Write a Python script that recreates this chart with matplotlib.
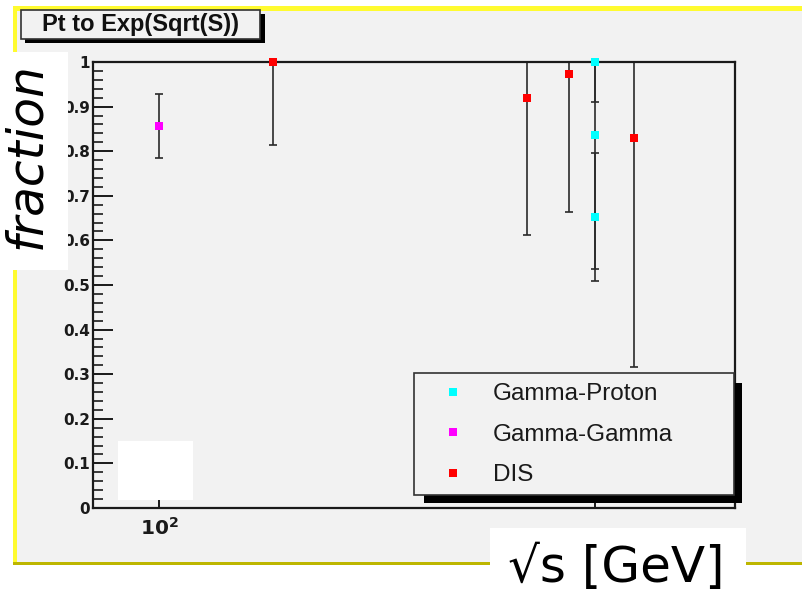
import matplotlib
matplotlib.use("Agg")
import matplotlib.pyplot as plt
from matplotlib.patches import Rectangle
from matplotlib.lines import Line2D
from matplotlib.ticker import FixedLocator, FixedFormatter, MultipleLocator, NullLocator

W, H = 803, 593

# --- values ---
gp_x = [1000, 1000, 1000]
gp_y = [1.0, 0.836, 0.652]
gp_err = [0.09, 0.30, 0.143]

gg_x = [100]
gg_y = [0.856]
gg_err = [0.072]

dis_x = [183, 700, 873, 1227]
dis_y = [0.999, 0.92, 0.973, 0.83]
dis_err = [0.185, 0.308, 0.309, 0.513]

labels = ["Gamma-Proton", "Gamma-Gamma", "DIS"]
colors = ["#00ffff", "#ff00ff", "#ff0000"]
y_ticks = [0, 0.1, 0.2, 0.3, 0.4, 0.5, 0.6, 0.7, 0.8, 0.9, 1]
y_ticklabels = ["0", "0.1", "0.2", "0.3", "0.4", "0.5", "0.6", "0.7", "0.8", "0.9", "1"]
x_ticks = [100, 1000]
x_ticklabels = [r"$\mathbf{10^{2}}$", ""]

BG = "#f2f2f2"
plt.rcParams["mathtext.fontset"] = "dejavusans"

fig = plt.figure(figsize=(W / 100, H / 100), dpi=100, facecolor="white")


def box(x0, y0, x1, y1, **kw):
    # pixel box, measured from the top-left corner
    r = Rectangle((x0 / W, 1 - y1 / H), (x1 - x0) / W, (y1 - y0) / H,
                  transform=fig.transFigure, **kw)
    fig.add_artist(r)
    return r


# --- canvas with the slide frame ---
box(17, 8, W + 5, 562, facecolor=BG, edgecolor="none", zorder=-3)
box(13, 6, W + 5, 11, facecolor="#fffb2f", edgecolor="none", zorder=-2)
box(13, 6, 17, 562, facecolor="#fffb2f", edgecolor="none", zorder=-2)
box(13, 562, W + 5, 565, facecolor="#bdb600", edgecolor="none", zorder=-2)

ax = fig.add_axes([93 / W, (H - 508) / H, 642 / W, 446 / H])
ax.set_facecolor(BG)
ax.set_xscale("log")
ax.set_xlim(70.6, 2095)
ax.set_ylim(0, 1)

for x, y, e, c in [(gp_x, gp_y, gp_err, colors[0]),
                   (gg_x, gg_y, gg_err, colors[1]),
                   (dis_x, dis_y, dis_err, colors[2])]:
    ax.errorbar(x, y, yerr=e, fmt="none", ecolor="#2a2a2a", elinewidth=1.2,
                capsize=3, capthick=1.2, zorder=2)
    ax.plot(x, y, ls="none", marker="s", ms=5.8, mew=0, color=c,
            clip_on=False, zorder=3)

for s in ax.spines.values():
    s.set_linewidth(1.6)
    s.set_color("#1a1a1a")

ax.yaxis.set_major_locator(FixedLocator(y_ticks))
ax.yaxis.set_major_formatter(FixedFormatter(y_ticklabels))
ax.yaxis.set_minor_locator(MultipleLocator(0.02))
ax.xaxis.set_major_locator(FixedLocator(x_ticks))
ax.xaxis.set_major_formatter(FixedFormatter(x_ticklabels))
ax.xaxis.set_minor_locator(NullLocator())

ax.tick_params(axis="y", which="major", direction="in", length=14.4, width=1.4,
               pad=2, colors="#1a1a1a", labelsize=11)
ax.tick_params(axis="y", which="minor", direction="in", length=7.5, width=1.2,
               colors="#1a1a1a")
ax.tick_params(axis="x", which="major", direction="in", length=9.4, width=1.4,
               pad=6.5, colors="#1a1a1a", labelsize=14.5)
for t in ax.get_yticklabels():
    t.set_fontweight("bold")

# --- legend with a drop shadow ---
ax.add_patch(Rectangle((424 / W, 1 - 503 / H), (742 - 424) / W, (503 - 383) / H,
                       transform=fig.transFigure, facecolor="black",
                       edgecolor="none", clip_on=False, zorder=4.4))
ax.add_patch(Rectangle((414 / W, 1 - 495 / H), (734 - 414) / W, (495 - 373) / H,
                       transform=fig.transFigure, facecolor=BG,
                       edgecolor="#333333", lw=1.2, clip_on=False, zorder=4.5))
handles = [Line2D([], [], ls="none", marker="s", ms=5.8, mew=0, color=c) for c in colors]
leg = ax.legend(handles, labels, loc="upper left",
                bbox_to_anchor=(429 / W, 1 - 383 / H), bbox_transform=fig.transFigure,
                frameon=False, borderpad=0, borderaxespad=0, handlelength=2,
                handletextpad=0.62, labelspacing=0.77,
                prop={"family": "Liberation Sans", "size": 17.5})
for t in leg.get_texts():
    t.set_color("#1a1a1a")

# --- title box ---
box(25, 14, 265, 43, facecolor="black", edgecolor="none", zorder=5)
box(21, 10, 260, 39, facecolor=BG, edgecolor="#333333", lw=1.2, zorder=5.1)
fig.text(140.5 / W, 1 - 25 / H, "Pt to Exp(Sqrt(S))", ha="center", va="center",
         family="Liberation Sans", weight="bold", size=17, color="#111111", zorder=6)

# --- white boxes pasted over the plot ---
box(0, 52, 68, 270, facecolor="white", edgecolor="none", zorder=10)
box(490, 528, 746, H, facecolor="white", edgecolor="none", zorder=10)
box(118, 441, 193, 500, facecolor="white", edgecolor="none", zorder=10)

fig.text(50 / W, 1 - 156 / H, "fraction", rotation=90, ha="right", va="center",
         family="DejaVu Sans", style="italic", size=35, color="black", zorder=11)
fig.text(616 / W, 1 - 582 / H, "\u221as [GeV]", ha="center", va="baseline",
         family="DejaVu Sans", size=36, color="black", zorder=11)

fig.savefig("out.png", dpi=100, facecolor="white")
